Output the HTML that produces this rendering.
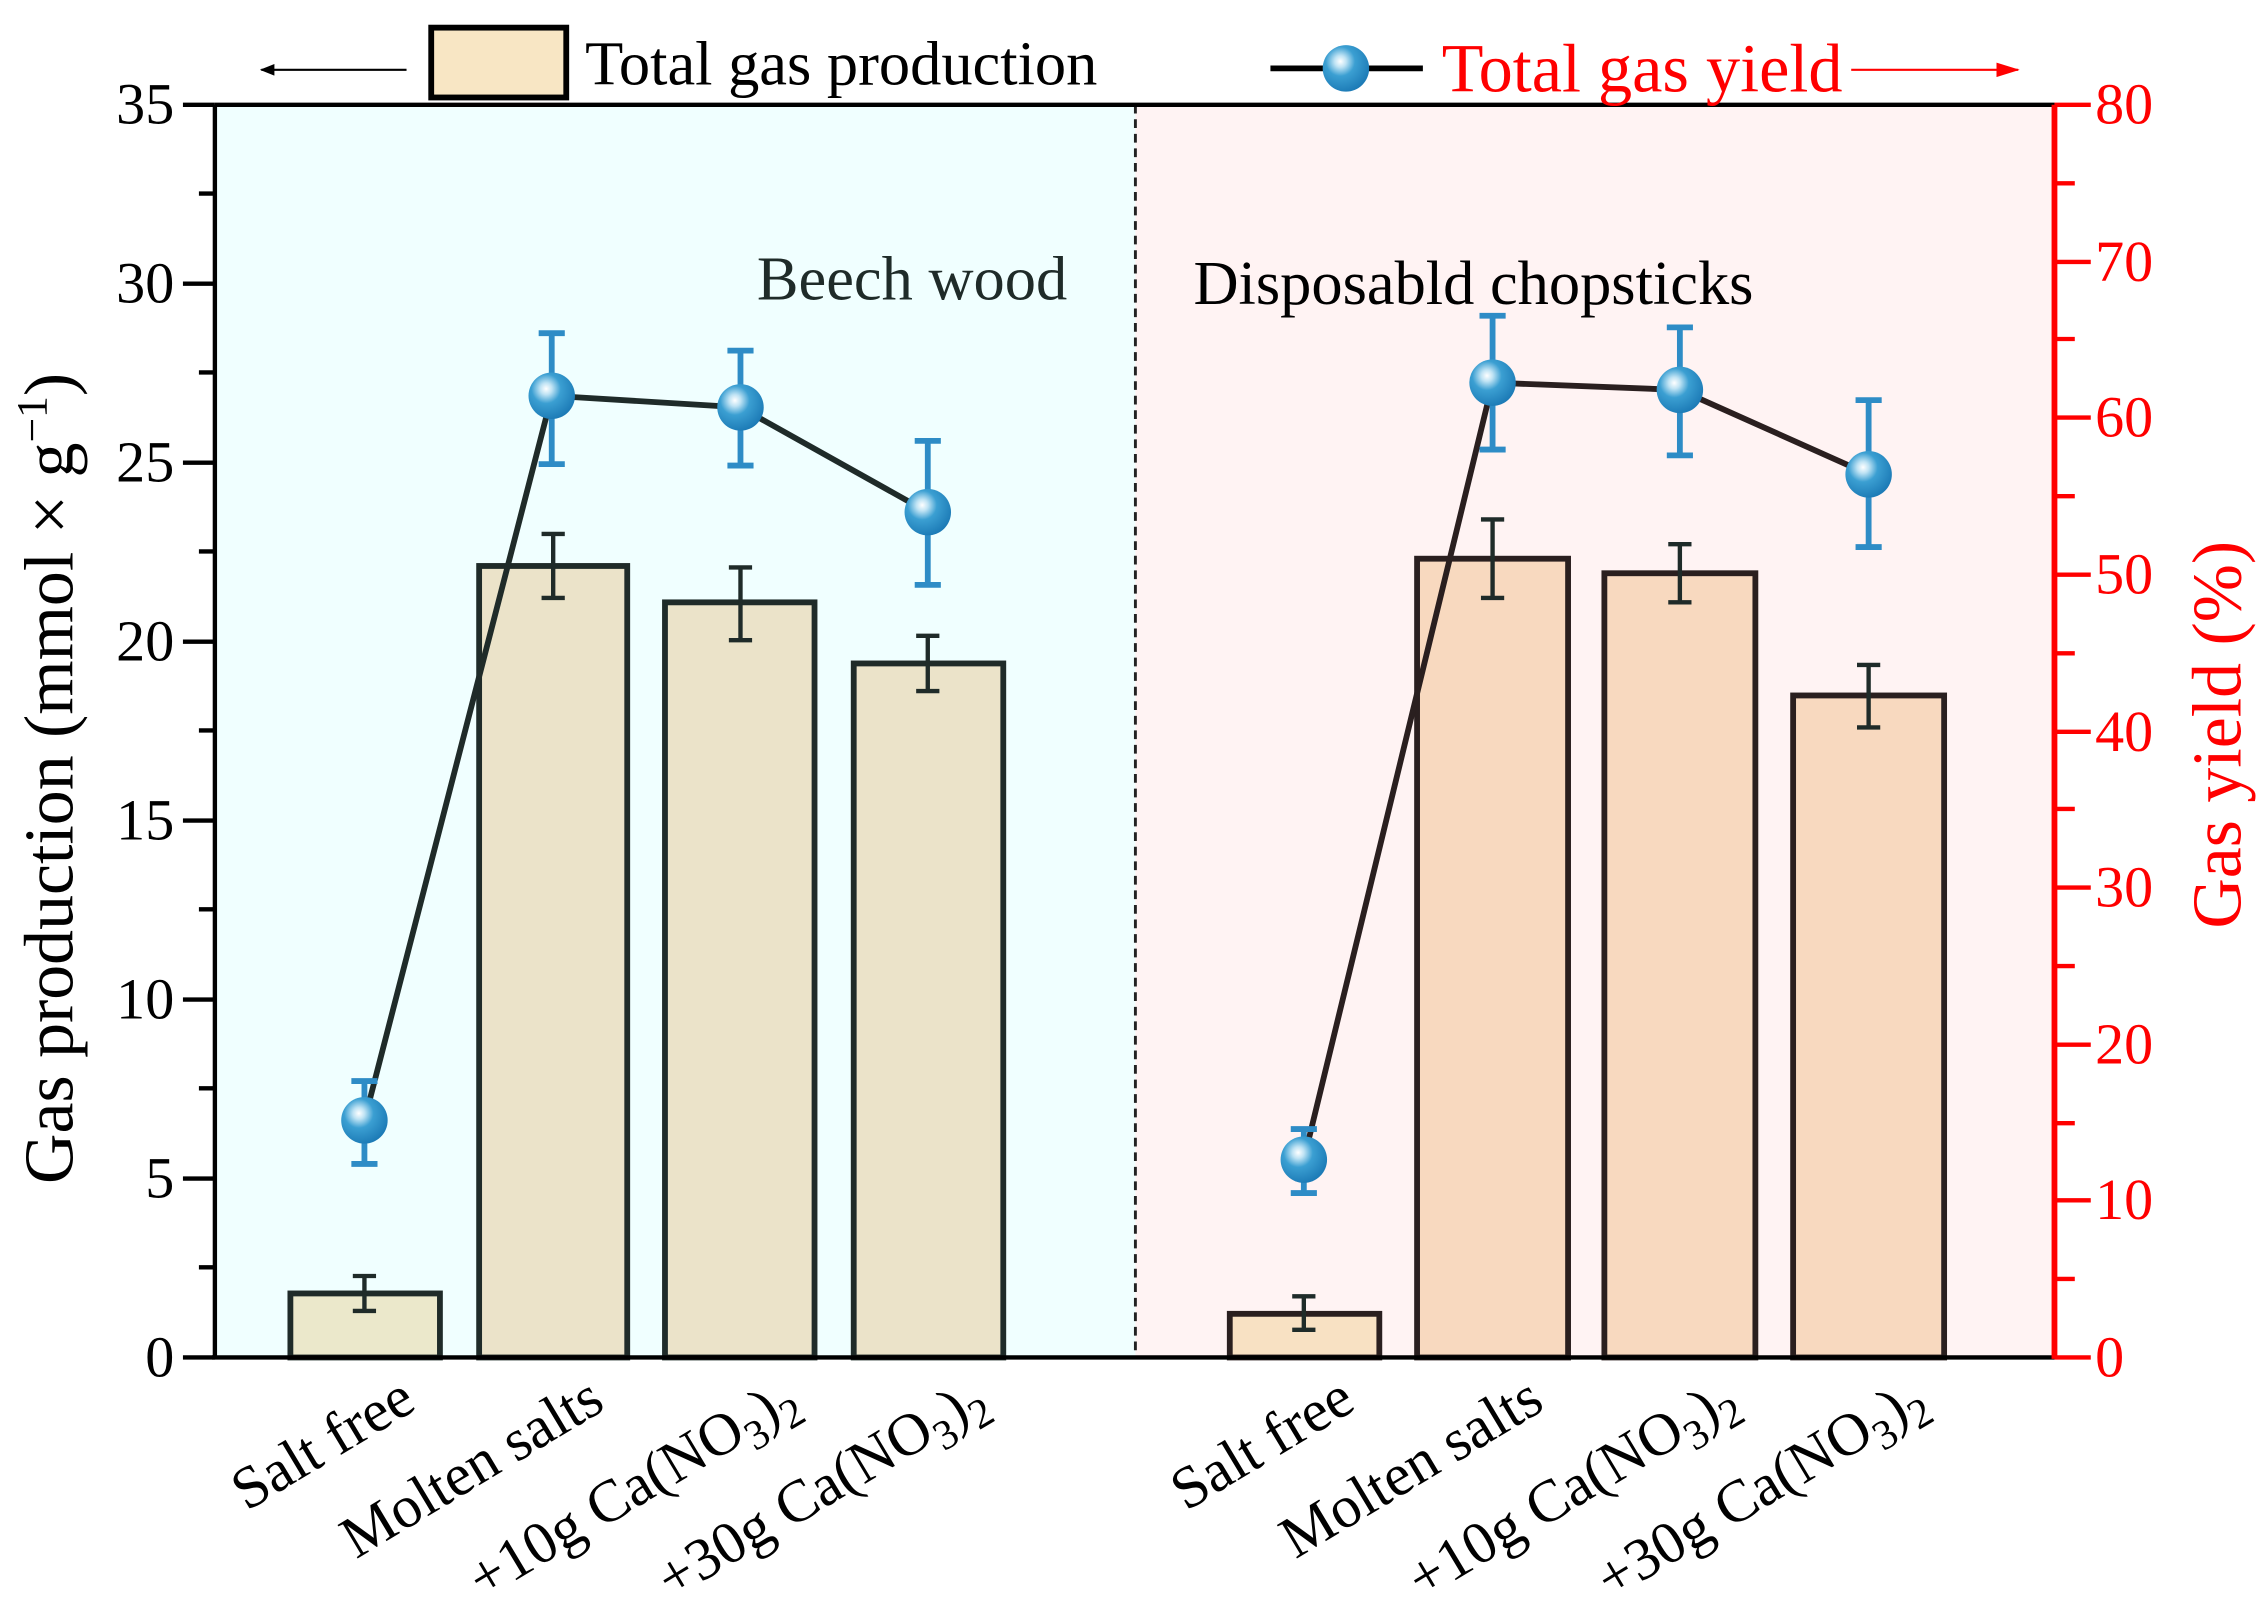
<!DOCTYPE html>
<html><head><meta charset="utf-8"><style>html,body{margin:0;padding:0;background:#fff}svg{display:block}</style></head>
<body>
<svg width="2265" height="1615" viewBox="0 0 1560 1110" preserveAspectRatio="none" xmlns="http://www.w3.org/2000/svg" font-family="Liberation Serif, serif">
<defs>
<radialGradient id="sph" cx="0.38" cy="0.35" r="0.7">
<stop offset="0" stop-color="#ffffff"/><stop offset="0.18" stop-color="#bfe3f4"/><stop offset="0.45" stop-color="#3b9fd2"/><stop offset="1" stop-color="#1a78b4"/>
</radialGradient>
<marker id="ah" markerWidth="10" markerHeight="8" refX="9" refY="4" orient="auto" markerUnits="userSpaceOnUse"><path d="M0,0 L10,4 L0,8 Z" fill="#000"/></marker>
<marker id="ahr" markerWidth="16" markerHeight="10" refX="15" refY="5" orient="auto" markerUnits="userSpaceOnUse"><path d="M0,0 L16,5 L0,10 Z" fill="#f00"/></marker>
</defs>
<rect x="148" y="72" width="634" height="861" fill="#f0ffff"/>
<rect x="782" y="72" width="633" height="861" fill="#fff3f3"/>
<line x1="782" y1="72" x2="782" y2="933" stroke="#222" stroke-width="2" stroke-dasharray="6,4"/>

<g stroke="#1f2b29" stroke-width="4">
<rect x="200" y="889" width="103" height="44" fill="#ebe8cb"/>
<rect x="330" y="389" width="102" height="544" fill="#ebe3c9"/>
<rect x="458" y="414" width="103" height="519" fill="#ebe3c9"/>
<rect x="588" y="456" width="103" height="477" fill="#ebe3c9"/>
</g>
<g stroke="#2a1f1f" stroke-width="4">
<rect x="847" y="903" width="103" height="30" fill="#f8e1c3"/>
<rect x="976" y="384" width="104" height="549" fill="#f8d9bf"/>
<rect x="1105" y="394" width="104" height="539" fill="#f8d9bf"/>
<rect x="1235" y="478" width="104" height="455" fill="#f8d9bf"/>
</g>
<g stroke="#1f2b29" stroke-width="3" fill="none">
<path d="M251,877V901M243,877H259M243,901H259"/>
<path d="M381,367V411M373,367H389M373,411H389"/>
<path d="M510,390V440M502,390H518M502,440H518"/>
<path d="M639,437V475M631,437H647M631,475H647"/>
<path d="M898,891V914M890,891H906M890,914H906"/>
<path d="M1028,357V411M1020,357H1036M1020,411H1036"/>
<path d="M1157,374V414M1149,374H1165M1149,414H1165"/>
<path d="M1287,457V500M1279,457H1295M1279,500H1295"/>
</g>
<polyline points="251,770 380,272 510,280 639,352" fill="none" stroke="#1f2b29" stroke-width="4"/>
<polyline points="898,797 1028,263 1157,268 1287,326" fill="none" stroke="#2a1f1f" stroke-width="4"/>
<g stroke="#2e8cc6" stroke-width="4" fill="none">
<path d="M251,743V800M242,743H260M242,800H260"/>
<path d="M380,229V319M371,229H389M371,319H389"/>
<path d="M510,241V320M501,241H519M501,320H519"/>
<path d="M639,303V402M630,303H648M630,402H648"/>
<path d="M898,776V820M889,776H907M889,820H907"/>
<path d="M1028,217V309M1019,217H1037M1019,309H1037"/>
<path d="M1157,225V313M1148,225H1166M1148,313H1166"/>
<path d="M1287,275V376M1278,275H1296M1278,376H1296"/>
</g>
<g fill="url(#sph)">
<circle cx="251" cy="770" r="16"/><circle cx="380" cy="272" r="16"/><circle cx="510" cy="280" r="16"/><circle cx="639" cy="352" r="16"/>
<circle cx="898" cy="797" r="16"/><circle cx="1028" cy="263" r="16"/><circle cx="1157" cy="268" r="16"/><circle cx="1287" cy="326" r="16"/>
</g>

<line x1="148" y1="72" x2="1415" y2="72" stroke="#000" stroke-width="3"/>
<line x1="146" y1="933" x2="1415" y2="933" stroke="#000" stroke-width="3"/>
<line x1="148" y1="72" x2="148" y2="934" stroke="#000" stroke-width="3"/>
<line x1="1415" y1="72" x2="1415" y2="934" stroke="#f00" stroke-width="4"/>
<g stroke="#000" stroke-width="3">
<path d="M126,933H148M126,810H148M126,687H148M126,564H148M126,441H148M126,318H148M126,195H148M126,72H148"/>
<path d="M137,871H148M137,748H148M137,625H148M137,502H148M137,379H148M137,256H148M137,133H148"/>
</g>
<g stroke="#f00" stroke-width="3">
<path d="M1415,933H1440M1415,825H1440M1415,718H1440M1415,610H1440M1415,503H1440M1415,395H1440M1415,287H1440M1415,180H1440M1415,72H1440"/>
<path d="M1415,879H1429M1415,772H1429M1415,664H1429M1415,556H1429M1415,449H1429M1415,341H1429M1415,233H1429M1415,126H1429"/>
</g>
<g font-size="40" text-anchor="end" fill="#000">
<text x="120" y="946">0</text><text x="120" y="823">5</text><text x="120" y="700">10</text><text x="120" y="577">15</text>
<text x="120" y="454">20</text><text x="120" y="331">25</text><text x="120" y="208">30</text><text x="120" y="85">35</text>
</g>
<g font-size="40" fill="#f00">
<text x="1443" y="946">0</text><text x="1443" y="838">10</text><text x="1443" y="731">20</text><text x="1443" y="623">30</text>
<text x="1443" y="516">40</text><text x="1443" y="408">50</text><text x="1443" y="300">60</text><text x="1443" y="193">70</text><text x="1443" y="85">80</text>
</g>
<text transform="translate(50,535) rotate(-90)" font-size="48" text-anchor="middle">Gas production (mmol × g<tspan dy="-18" font-size="30">−1</tspan><tspan dy="18">)</tspan></text>
<text transform="translate(1543,505) rotate(-90)" font-size="48" text-anchor="middle" fill="#f00">Gas yield (%)</text>

<text x="735" y="206" font-size="43" text-anchor="end" fill="#1f2b29">Beech wood</text>
<text x="822" y="209" font-size="43" fill="#000">Disposabld chopsticks</text>

<g font-size="41" text-anchor="end">
<text transform="translate(288,968) rotate(-31)">Salt free</text>
<text transform="translate(418,968) rotate(-31)">Molten salts</text>
<text transform="translate(552,968) rotate(-31)">+10g Ca(NO<tspan dy="9" font-size="29">3</tspan><tspan dy="-9">)</tspan><tspan dy="9" font-size="29">2</tspan></text>
<text transform="translate(682,968) rotate(-31)">+30g Ca(NO<tspan dy="9" font-size="29">3</tspan><tspan dy="-9">)</tspan><tspan dy="9" font-size="29">2</tspan></text>
<text transform="translate(935,968) rotate(-31)">Salt free</text>
<text transform="translate(1065,968) rotate(-31)">Molten salts</text>
<text transform="translate(1199,968) rotate(-31)">+10g Ca(NO<tspan dy="9" font-size="29">3</tspan><tspan dy="-9">)</tspan><tspan dy="9" font-size="29">2</tspan></text>
<text transform="translate(1329,968) rotate(-31)">+30g Ca(NO<tspan dy="9" font-size="29">3</tspan><tspan dy="-9">)</tspan><tspan dy="9" font-size="29">2</tspan></text>
</g>

<line x1="280" y1="48" x2="180" y2="48" stroke="#000" stroke-width="1.5" marker-end="url(#ah)"/>
<rect x="297" y="19" width="93" height="48" fill="#f8e6c4" stroke="#000" stroke-width="4"/>
<text x="403" y="58" font-size="43">Total gas production</text>
<line x1="875" y1="47" x2="980" y2="47" stroke="#000" stroke-width="4"/>
<circle cx="927" cy="47" r="16" fill="url(#sph)"/>
<text x="993" y="63" font-size="47" fill="#f00">Total gas yield</text>
<line x1="1275" y1="48" x2="1390" y2="48" stroke="#f00" stroke-width="1.5" marker-end="url(#ahr)"/>
</svg>
</body></html>
